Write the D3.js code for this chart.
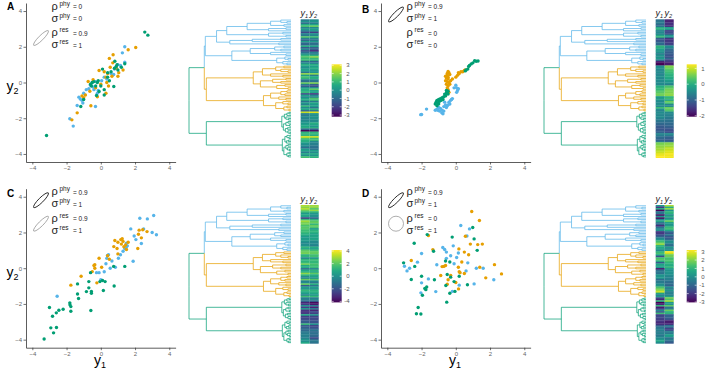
<!DOCTYPE html>
<html>
<head>
<meta charset="utf-8">
<script src="https://cdn.jsdelivr.net/npm/d3@7"></script>
<style>
body { margin: 0; background: #fff; }
text { font-family: "Liberation Sans", Arial, sans-serif; }
</style>
</head>
<body>
<svg id="svg"></svg>
<script>
var width = 709, height = 377;

// panel parameters
var panelIds = ["A", "B", "C", "D"];
var rhoPhy = [0, 0.9, 0.9, 0.9];
var sigmaPhy = [0, 1, 1, 1];
var rhoRes = [0.9, 0, 0.9, 0];
var sigmaRes = [1, 0, 1, 1];
var colorLimits = [[-3.2, 3.12], [-2.06, 1.26], [-4.16, 4.16], [-3.05, 3.2]];
var colorTicks = [[-3, -2, -1, 0, 1, 2, 3], [-2, -1, 0, 1], [-4, -2, 0, 2, 4], [-3, -2, -1, 0, 1, 2, 3]];
var axisTicks = [-4, -2, 0, 2, 4];
var cladeNames = ["blue", "orange", "green"];

// tree: internal node = [height, left, right], tip = 1
var tree =
[0,
 [0.15,
  [0.16,
   [0.27,
    [0.37,
     [0.57,
      [0.8, [0.9, 1, [0.96, 1, 1]], [0.93, 1, 1]],
      [0.78, [0.95, 1, 1], 1]],
     [0.78, [0.92, 1, 1], [0.95, 1, 1]]],
    [0.4,
     [0.62, [0.9, 1, 1], 1],
     [0.88, 1, 1]]],
   [0.42,
    [0.6, [0.84, [0.93, 1, 1], [0.9, 1, 1]], [0.8, 1, [0.95, 1, 1]]],
    [0.86, [0.94, 1, [0.97, 1, 1]], [0.92, 1, [0.96, 1, 1]]]]],
  [0.17,
   [0.63,
    [0.72, [0.85, [0.93, 1, 1], [0.9, 1, [0.97, 1, 1]]], [0.8, 1, [0.92, 1, 1]]],
    [0.7, [0.82, [0.95, 1, 1], [0.9, 1, 1]], [0.86, [0.94, 1, 1], [0.97, 1, 1]]]],
   [0.73,
    [0.8, [0.9, [0.96, 1, 1], [0.94, 1, 1]], [0.88, 1, [0.95, 1, 1]]],
    [0.85, [0.92, 1, [0.97, 1, 1]], [0.93, [0.96, 1, 1], [0.98, 1, 1]]]]]],
 [0.17,
  [0.91,
   [0.935, [0.96, [0.98, 1, 1], 1], [0.95, 1, [0.975, 1, 1]]],
   [0.925, [0.95, [0.97, 1, 1], [0.985, 1, 1]], [0.945, [0.965, 1, 1], [0.97, 1, [0.99, 1, 1]]]]],
  [0.915,
   [0.94, [0.96, 1, [0.98, 1, 1]], [0.955, [0.975, 1, 1], 1]],
   [0.93, [0.95, [0.97, 1, 1], [0.965, 1, [0.985, 1, 1]]], [0.96, [0.98, 1, 1], [0.975, 1, 1]]]]]];

// trait values [y1, y2] per tip, in tree order within each clade
var blueA = [[-0.60,-0.15],[0.05,0.10],[-1.00,-0.60],[0.60,0.50],[1.26,1.66],[-0.45,-0.25],[0.20,0.30],[-0.50,0.00],
  [-1.81,-2.03],[-0.30,0.05],[-0.70,-0.35],[1.40,1.14],[-0.40,-0.40],[-1.28,-0.82],[0.35,0.20],[-1.10,-1.00],
  [-1.20,-0.92],[0.75,0.45],[-1.38,-1.29],[-0.31,-1.34],[-1.61,-2.44],[-0.85,-0.40],[-0.20,-0.60],[0.90,0.85],
  [1.40,2.00],[1.00,1.00],[1.15,0.95],[-1.05,-1.15],[-0.15,-0.45],[0.80,0.75]];
var orangeA = [[0.30,0.30],[-0.10,0.67],[0.40,0.50],[0.35,0.00],[-0.74,0.06],[2.04,1.96],[0.30,-0.60],[1.30,0.70],
  [0.90,0.80],[-0.64,-0.49],[-1.00,-0.85],[1.60,1.83],[-0.58,-1.30],[-1.38,-1.70],[0.00,-0.10],[0.72,1.55],
  [0.65,0.35],[1.05,0.55],[-1.69,-2.09],[0.45,-0.20],[-0.30,-0.30],[0.50,1.35],[0.70,1.10],[-0.90,-0.70],
  [0.20,0.60],[-0.45,0.15],[1.00,0.35],[-0.20,-0.80],[0.55,0.85],[-1.10,-0.75]];
var greenA = [[2.57,2.82],[-0.50,0.00],[-0.60,-0.10],[-0.20,0.00],[-0.40,0.05],[-0.30,-0.20],[0.00,-0.20],[0.10,0.75],
  [0.40,0.55],[0.50,0.10],[0.80,0.80],[-1.17,-1.34],[-3.17,-2.97],[0.90,0.90],[0.95,1.00],[1.00,0.70],
  [2.75,2.65],[1.40,1.05],[0.82,1.19],[0.76,-0.22],[0.20,-0.40],[-0.10,-0.50],[-0.25,-0.73],[-1.00,-0.95],
  [0.20,-0.70],[0.40,0.30],[-0.55,-0.20],[0.60,0.60],[-0.15,0.10],[1.20,0.85]];

var blueB = [[-0.82,-1.70],[-0.75,-1.75],[-0.70,-1.60],[-0.95,-1.60],[-0.80,-1.55],[0.00,-0.15],[0.05,-0.30],[-0.55,-1.40],
  [-0.50,-1.30],[-0.60,-1.25],[-0.10,-0.30],[0.15,-0.35],[-1.05,-1.55],[-1.20,-1.55],[-1.11,-1.51],[-0.90,-1.45],
  [-1.00,-1.40],[0.10,-0.45],[0.05,-0.55],[-0.20,-0.90],[-0.30,-1.00],[-0.40,-1.10],[-0.65,-1.10],[-0.35,-1.20],
  [-0.45,-1.25],[-0.25,-0.95],[-0.70,-1.35],[-1.71,-1.49],[-2.00,-1.79],[-2.05,-1.80]];
var orangeB = [[-0.45,0.62],[-0.40,0.55],[-0.50,0.40],[-0.55,0.25],[-0.45,0.20],[-0.60,0.10],[-0.50,0.05],[-0.40,0.00],
  [-0.55,-0.10],[-0.45,-0.20],[-0.50,-0.30],[-0.45,-0.40],[-0.55,-0.65],[0.00,0.30],[0.10,0.40],[0.15,0.55],
  [0.30,0.60],[0.40,0.60],[0.50,0.67],[0.55,0.70],[-0.30,0.10],[-0.20,0.20],[-0.35,-0.10],[-0.50,0.50],
  [-0.45,0.30],[-0.40,-0.55],[-0.50,-0.50],[0.20,0.50],[-0.35,0.45],[-0.60,0.35]];
var greenB = [[-0.45,-0.49],[-0.50,-0.55],[-0.55,-0.60],[-0.45,-0.65],[-0.60,-0.75],[-0.70,-0.80],[-0.80,-0.85],[-0.90,-0.90],
  [-1.00,-0.95],[-1.10,-1.00],[-1.15,-1.10],[-1.20,-1.20],[-1.10,-1.30],[-1.00,-1.20],[-0.55,-0.45],[-0.65,-0.65],
  [-0.85,-1.00],[-0.95,-1.05],[-1.05,-1.15],[-0.75,-0.95],[0.55,0.65],[0.60,0.70],[0.70,0.75],[0.75,0.90],
  [0.80,0.95],[0.90,1.04],[1.00,1.10],[1.10,1.22],[1.19,1.19],[1.30,1.20]];

var blueC = [[3.09,2.95],[2.72,2.76],[3.25,1.87],[2.28,2.80],[1.50,1.40],[0.30,0.25],[0.85,0.05],[0.55,0.00],
  [-2.55,-1.57],[1.40,1.10],[3.00,2.00],[2.50,2.20],[2.37,1.38],[1.75,2.20],[1.95,1.80],[1.89,0.39],
  [1.50,1.20],[1.55,1.25],[1.15,0.75],[1.03,0.56],[0.39,0.71],[0.35,0.55],[0.45,0.75],[0.20,-0.20],
  [-0.25,-0.25],[-0.10,-0.25],[0.00,-0.65],[1.30,0.95],[0.65,0.40],[2.05,1.60]];
var orangeC = [[2.24,2.13],[2.45,2.15],[1.17,1.60],[1.25,1.65],[-0.40,0.15],[1.30,1.50],[1.20,1.35],[1.45,1.30],
  [2.37,1.70],[0.82,1.55],[1.00,1.45],[-1.15,-0.45],[0.76,1.21],[1.00,0.80],[2.70,2.05],[1.50,1.05],
  [-0.10,0.56],[-0.35,0.00],[2.20,1.90],[-0.50,-0.19],[-0.23,-0.82],[2.16,1.10],[-1.75,-0.95],[0.50,0.50],
  [0.05,0.05],[1.35,1.20],[0.95,1.10],[0.40,0.70],[-0.35,0.20],[1.60,1.45]];
var greenC = [[-0.70,-0.75],[-0.60,-0.25],[-1.36,-1.44],[-3.31,-3.96],[-2.76,-3.62],[0.10,-0.69],[-2.59,-3.32],[0.25,-0.75],
  [-2.92,-3.34],[-3.00,-2.20],[-2.82,-2.69],[0.75,0.10],[-2.60,-2.50],[-2.45,-2.35],[-2.20,-2.30],[-1.81,-1.94],
  [-1.80,-2.05],[1.40,0.10],[-1.75,-2.41],[-1.75,-2.15],[-1.30,-1.70],[-1.36,-0.88],[-0.84,-1.31],[-0.70,-1.10],
  [-0.55,-1.30],[-0.55,-1.40],[-0.58,-2.37],[0.15,-1.25],[-0.05,-0.75],[0.78,-1.00]];

var blueD = [[0.29,2.39],[-2.00,0.82],[0.80,2.20],[-3.00,0.11],[-0.65,1.05],[-0.55,0.90],[-2.70,0.00],[0.15,0.85],
  [-2.85,-0.15],[-0.30,0.70],[0.65,1.80],[-0.55,0.55],[-1.11,0.19],[-2.24,0.34],[-0.76,1.16],[-0.15,1.25],
  [0.05,0.60],[-2.00,-0.82],[-2.04,-1.38],[-1.60,-0.60],[-1.17,-1.31],[-0.20,-1.30],[0.20,-0.95],[1.20,0.00],
  [1.60,0.00],[2.22,-0.65],[1.07,-0.88],[0.70,0.30],[0.60,-0.15],[-0.10,0.25]];
var orangeD = [[0.93,3.17],[1.38,2.67],[0.56,1.79],[-1.60,1.83],[1.28,1.32],[1.55,1.35],[0.85,1.35],[-1.34,1.04],
  [0.50,0.90],[0.75,0.75],[0.18,1.08],[-2.60,0.43],[-0.80,0.09],[-0.60,0.15],[-0.70,0.10],[0.15,0.05],
  [0.20,-0.20],[0.25,-0.25],[-0.88,-0.41],[-0.45,-0.65],[-0.50,-0.90],[0.00,-0.80],[0.16,-1.16],[1.40,0.05],
  [1.75,-0.54],[2.26,0.20],[2.67,-0.32],[0.50,-0.30],[-0.30,-0.40],[0.35,0.35]];
var greenD = [[-1.67,1.88],[-2.43,1.40],[0.99,2.28],[-3.05,0.30],[-2.40,0.10],[1.07,1.64],[-2.60,-0.63],[-2.00,-0.45],
  [-0.21,1.74],[-1.30,0.95],[1.25,1.00],[-1.81,-1.14],[-1.70,-1.05],[-1.75,-1.20],[-1.95,-1.51],[-2.04,-2.56],
  [-2.30,-2.55],[-2.20,-2.20],[-1.25,-0.65],[-0.58,-0.97],[-0.53,-1.90],[-0.35,-1.40],[-0.50,-0.35],[-0.30,-0.50],
  [-0.60,0.40],[-0.35,0.35],[-0.10,-0.75],[0.20,-0.45],[0.68,-0.93],[-0.05,-1.30]];

var traits = [[blueA, orangeA, greenA], [blueB, orangeB, greenB], [blueC, orangeC, greenC], [blueD, orangeD, greenD]];

var cladeColor = { blue: "#56B4E9", orange: "#E69F00", green: "#009E73" };

var svg = d3.select("#svg")
	.attr("width", width)
	.attr("height", height);

// layout of one panel, local coordinates
var x = d3.scaleLinear().domain([-4.37, 4.37]).range([26, 175.6]);
var y = d3.scaleLinear().domain([-4.45, 4.45]).range([162, 3]);
var depth = d3.scaleLinear().domain([0, 1]).range([189, 291]);
var cols = d3.scaleBand().domain(["y1", "y2"]).range([300.7, 318.7]);

var root = d3.hierarchy(tree, function(d) { return Array.isArray(d) ? d.slice(1) : null; });
var leaves = root.leaves();
var nTips = leaves.length;
var rows = d3.scaleBand().domain(d3.range(nTips)).range([19.3, 157.7]);
var sizes = traits[0].map(function(s) { return s.length; });

function cladeOfTip(i)
{
	var c = 0, acc = sizes[0];
	while (i >= acc && c < sizes.length - 1) { c++; acc += sizes[c]; }
	return c;
}

leaves.forEach(function(l, i) { l.tip = i; });
root.eachAfter(function(n) {
	n.h = Array.isArray(n.data) ? n.data[0] : 1;
	if (n.children) {
		n.py = (n.children[0].py + n.children[n.children.length - 1].py) / 2;
		var cs = d3.union(n.children.map(function(c) { return c.clade; }));
		n.clade = cs.size == 1 ? n.children[0].clade : 2;
	} else {
		n.py = rows(n.tip) + rows.bandwidth() / 2;
		n.clade = cladeOfTip(n.tip);
	}
});

var panelPos = [[0, 0, 10], [355, 0, 13.3], [0, 185.7, 11], [355, 185.7, 11]];

panelIds.forEach(function(id, k) { plot(k); });

function plot(k)
{
	var pos = panelPos[k];
	var g = svg.append("g").attr("transform", "translate(" + pos[0] + "," + pos[1] + ")");
	var tips = [];
	traits[k].forEach(function(s, c) {
		s.forEach(function(v) { tips.push({ y1: v[0], y2: v[1], clade: c }); });
	});

	// scatter axes
	var ax = g.append("g").attr("transform", "translate(0,162)")
		.call(d3.axisBottom(x).tickValues(axisTicks).tickSize(2.5).tickSizeOuter(0).tickPadding(1.5));
	var ay = g.append("g").attr("transform", "translate(26,0)")
		.call(d3.axisLeft(y).tickValues(axisTicks).tickSize(2.5).tickSizeOuter(0).tickPadding(1.5));
	[ax, ay].forEach(function(a) {
		a.select(".domain").attr("stroke", "#333").attr("stroke-width", 0.8);
		a.selectAll(".tick line").attr("stroke", "#333").attr("stroke-width", 0.7);
		a.selectAll(".tick text").attr("font-size", "6px").attr("fill", "#666")
			.attr("font-family", "Liberation Sans, Arial, sans-serif");
	});

	g.append("g").selectAll("circle")
		.data(tips)
		.enter().append("circle")
		.attr("cx", function(d) { return x(d.y1); })
		.attr("cy", function(d) { return y(d.y2); })
		.attr("r", 1.7)
		.attr("fill", function(d) { return cladeColor[cladeNames[d.clade]]; });

	// panel letter
	g.append("text").attr("x", 7).attr("y", pos[2])
		.attr("font-size", "10px").attr("font-weight", "bold").text(panelIds[k]);

	// axis titles
	if (k % 2 == 0) {
		var t = g.append("text").attr("x", 6.5).attr("y", 91).attr("font-size", "14px");
		t.append("tspan").text("y");
		t.append("tspan").attr("font-size", "9px").attr("dy", 3).text("2");
	}
	if (k >= 2) {
		var t1 = g.append("text").attr("x", 100).attr("y", 179.3).attr("font-size", "14px").attr("text-anchor", "middle");
		t1.append("tspan").text("y");
		t1.append("tspan").attr("font-size", "9px").attr("dy", 3).text("1");
	}

	// legend: ellipses and parameter text
	var lg = g.append("g");
	function ellipse(rho, sigma, cy, stroke, sw)
	{
		if (sigma == 0) return;
		var kk = 7.5 * sigma;
		lg.append("ellipse")
			.attr("cx", 0).attr("cy", 0)
			.attr("rx", kk * Math.sqrt(1 + rho)).attr("ry", kk * Math.sqrt(1 - rho))
			.attr("transform", "translate(41," + cy + ") rotate(" + (rho == 0 ? 0 : -45) + ")")
			.attr("fill", "none").attr("stroke", stroke).attr("stroke-width", sw);
	}
	ellipse(rhoPhy[k], sigmaPhy[k], 14.5, "#222", 0.9);
	ellipse(rhoRes[k], sigmaRes[k], 38, "#999", 0.8);

	var rowsTxt = [["\u03C1", "phy", rhoPhy[k]], ["\u03C3", "phy", sigmaPhy[k]],
		["\u03C1", "res", rhoRes[k]], ["\u03C3", "res", sigmaRes[k]]];
	var baselines = [9.5, 21.5, 36, 48];
	rowsTxt.forEach(function(r, i) {
		lg.append("text").attr("x", 51.5).attr("y", baselines[i]).attr("font-size", "11px").attr("fill", "#222").text(r[0]);
		lg.append("text").attr("x", 59.5).attr("y", baselines[i] - 4).attr("font-size", "6.5px").attr("fill", "#222").text(r[1]);
		lg.append("text").attr("x", 73).attr("y", baselines[i] - 0.5).attr("font-size", "6.5px").attr("fill", "#222").text("= " + r[2]);
	});

	// dendrogram
	g.append("g").selectAll("path")
		.data(root.descendants().slice(1))
		.enter().append("path")
		.attr("d", function(d) {
			return "M" + depth(d.parent.h) + "," + d.parent.py + "V" + d.py + "H" + depth(d.h);
		})
		.attr("fill", "none")
		.attr("stroke", function(d) { return cladeColor[cladeNames[d.clade]]; })
		.attr("stroke-width", 0.9)
		.attr("stroke-opacity", 0.8);

	// heatmap
	var lim = colorLimits[k];
	var color = d3.scaleSequential(d3.interpolateViridis).domain(lim).clamp(true);
	var cells = [];
	tips.forEach(function(d, i) {
		cells.push({ row: i, col: "y1", v: d.y1 });
		cells.push({ row: i, col: "y2", v: d.y2 });
	});
	g.append("g").selectAll("rect")
		.data(cells)
		.enter().append("rect")
		.attr("x", function(d) { return cols(d.col); })
		.attr("y", function(d) { return rows(d.row); })
		.attr("width", cols.bandwidth())
		.attr("height", rows.bandwidth() + 0.3)
		.attr("fill", function(d) { return color(d.v); });

	["y1", "y2"].forEach(function(c) {
		var h = g.append("text").attr("x", cols(c) + cols.bandwidth() / 2 - 1).attr("y", 16)
			.attr("font-size", "9px").attr("font-style", "italic").attr("text-anchor", "middle").attr("fill", "#222");
		h.append("tspan").text("y");
		h.append("tspan").attr("font-size", "5.5px").attr("dy", 2).text(c.slice(1));
	});

	// colour bar
	var gradId = "grad" + k;
	var grad = svg.append("defs").append("linearGradient").attr("id", gradId)
		.attr("x1", 0).attr("y1", 1).attr("x2", 0).attr("y2", 0);
	d3.range(0, 1.0001, 0.1).forEach(function(t) {
		grad.append("stop").attr("offset", t).attr("stop-color", d3.interpolateViridis(t));
	});
	var cb = d3.scaleLinear().domain(lim).range([116.7, 64.3]);
	g.append("rect").attr("x", 331.7).attr("y", 64.3).attr("width", 10).attr("height", 52.4)
		.attr("fill", "url(#" + gradId + ")");
	var cbt = g.append("g").selectAll("g").data(colorTicks[k]).enter().append("g");
	cbt.append("line").attr("x1", 331.7).attr("x2", 333.7)
		.attr("y1", function(d) { return cb(d); }).attr("y2", function(d) { return cb(d); })
		.attr("stroke", "#fff").attr("stroke-width", 0.6);
	cbt.append("line").attr("x1", 339.7).attr("x2", 341.7)
		.attr("y1", function(d) { return cb(d); }).attr("y2", function(d) { return cb(d); })
		.attr("stroke", "#fff").attr("stroke-width", 0.6);
	cbt.append("text").attr("x", 349.5).attr("y", function(d) { return cb(d); })
		.attr("dy", "0.35em").attr("text-anchor", "end").attr("font-size", "6px").attr("fill", "#555")
		.text(function(d) { return d; });
}
</script>
</body>
</html>
